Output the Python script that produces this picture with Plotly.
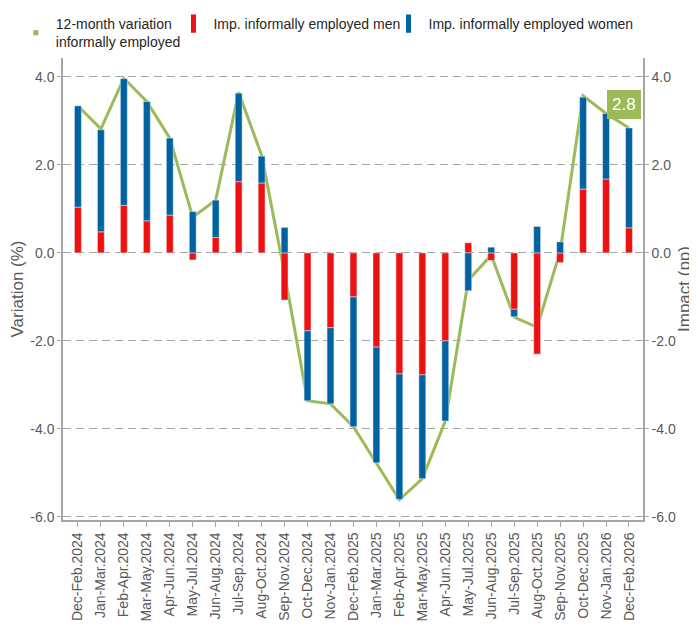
import plotly.graph_objects as go

categories = ["Dec-Feb.2024", "Jan-Mar.2024", "Feb-Apr.2024", "Mar-May.2024", "Apr-Jun.2024",
              "May-Jul.2024", "Jun-Aug.2024", "Jul-Sep.2024", "Aug-Oct.2024", "Sep-Nov.2024",
              "Oct-Dec.2024", "Nov-Jan.2024", "Dec-Feb.2025", "Jan-Mar.2025", "Feb-Apr.2025",
              "Mar-May.2025", "Apr-Jun.2025", "May-Jul.2025", "Jun-Aug.2025", "Jul-Sep.2025",
              "Aug-Oct.2025", "Sep-Nov.2025", "Oct-Dec.2025", "Nov-Jan.2026", "Dec-Feb.2026"]

variation = [3.34, 2.82, 3.97, 3.44, 2.61, 0.81, 1.20, 3.65, 2.22, -0.47,
             -3.36, -3.43, -3.95, -4.77, -5.61, -5.13, -3.82, -0.62, -0.05, -1.46,
             -1.69, 0.03, 3.57, 3.17, 2.84]

men = [1.04, 0.48, 1.08, 0.73, 0.86, -0.16, 0.35, 1.62, 1.59, -1.07,
       -1.77, -1.70, -1.00, -2.14, -2.75, -2.77, -2.00, 0.23, -0.17, -1.28,
       -2.30, -0.22, 1.45, 1.68, 0.57]

women = [2.30, 2.32, 2.88, 2.71, 1.75, 0.94, 0.85, 2.01, 0.61, 0.58,
         -1.59, -1.73, -2.95, -2.63, -2.85, -2.36, -1.82, -0.86, 0.13, -0.17,
         0.60, 0.25, 2.09, 1.49, 2.27]

tick_vals = [-6, -4, -2, 0, 2, 4]
tick_text = ["-6.0", "-4.0", "-2.0", "0.0", "2.0", "4.0"]

GREEN = "#9bbb59"
RED = "#ee1111"
BLUE = "#0062a1"
GRID = "#a6a6a6"
TXT = "#595959"
LEGTXT = "#262626"
FONT = "Liberation Sans, Arial, sans-serif"

fig = go.Figure()

# Bars (impacts) and line (variation)
fig.add_trace(go.Bar(x=categories, y=men, name="Imp. informally employed men",
                     marker=dict(color=RED), width=0.3, yaxis="y2", showlegend=False))
fig.add_trace(go.Bar(x=categories, y=women, name="Imp. informally employed women",
                     marker=dict(color=BLUE), width=0.3, yaxis="y2", showlegend=False))
fig.add_trace(go.Scatter(x=categories, y=variation, mode="lines",
                         name="12-month variation informally employed",
                         line=dict(color=GREEN, width=3), showlegend=False))

# Legend entries (one legend box per entry, positioned like the reference)
fig.add_trace(go.Scatter(x=[None], y=[None], mode="markers", legend="legend",
                         marker=dict(symbol="square", size=5, color=GREEN,
                                     line=dict(width=0)),
                         name="12-month variation<br>informally employed"))
fig.add_trace(go.Scatter(x=[None], y=[None], mode="markers", legend="legend2",
                         marker=dict(symbol="line-ns", size=13, color=RED,
                                     line=dict(color=RED, width=7)),
                         name="Imp. informally employed men"))
fig.add_trace(go.Scatter(x=[None], y=[None], mode="markers", legend="legend3",
                         marker=dict(symbol="line-ns", size=13, color=BLUE,
                                     line=dict(color=BLUE, width=7)),
                         name="Imp. informally employed women"))

yr = [-6.07, 4.43]

def leg(xpos):
    return dict(orientation="h", xref="container", yref="container",
                x=xpos, y=1.0, xanchor="left", yanchor="top",
                font=dict(size=14, color=LEGTXT, family=FONT),
                bgcolor="rgba(0,0,0,0)", itemwidth=30, valign="middle")

fig.update_layout(
    width=697, height=639,
    barmode="relative",
    paper_bgcolor="white", plot_bgcolor="white",
    font=dict(family=FONT, size=14, color=TXT),
    margin=dict(l=55, r=62, t=50, b=127, autoexpand=False),
    showlegend=True,
    legend=leg(0.0112),
    legend2=leg(0.2374),
    legend3=leg(0.5459),
    xaxis=dict(type="category", range=[-0.65, 24.61], tickangle=-90,
               showline=True, linecolor=GRID, linewidth=1.5,
               ticks="outside", ticklen=5, tickcolor=GRID,
               showgrid=False, automargin=False,
               tickfont=dict(size=14, color=TXT)),
    yaxis=dict(range=yr, tickvals=tick_vals, ticktext=tick_text,
               showline=True, linecolor=GRID, linewidth=1.5,
               ticks="outside", ticklen=4, tickcolor=GRID,
               showgrid=True, gridcolor=GRID, griddash="8px,5px", gridwidth=1,
               zeroline=False, automargin=False,
               title=dict(text="Variation (%)", font=dict(size=17, color=TXT), standoff=14),
               tickfont=dict(size=14, color=TXT)),
    yaxis2=dict(range=yr, tickvals=tick_vals, ticktext=tick_text, overlaying="y", side="right",
                showline=True, linecolor=GRID, linewidth=1.5,
                ticks="outside", ticklen=4, tickcolor=GRID,
                showgrid=False, zeroline=False, automargin=False,
                title=dict(text="Impact (pp)", font=dict(size=17, color=TXT), standoff=3),
                tickfont=dict(size=14, color=TXT)),
)

fig.add_annotation(x=categories[-1], y=variation[-1], xref="x", yref="y",
                   text=f"{variation[-1]:.1f}", showarrow=False,
                   xshift=-5, yshift=23,
                   font=dict(size=17, color="white", family=FONT),
                   bgcolor=GREEN, bordercolor=GREEN, borderpad=4)

fig.write_html("out.html")
